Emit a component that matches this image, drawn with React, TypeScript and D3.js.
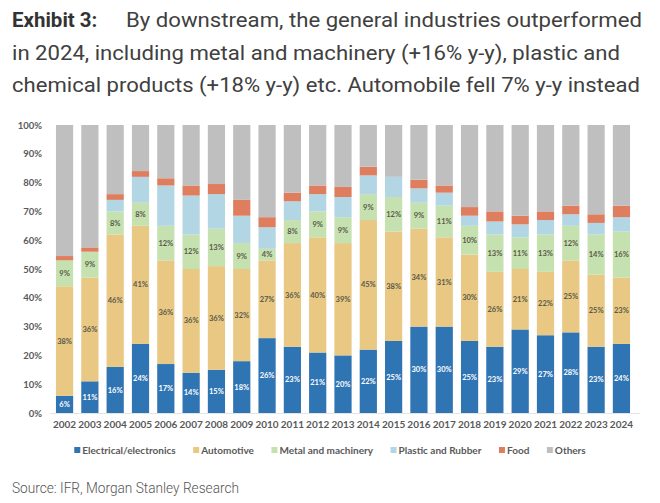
import React, { useEffect, useRef } from 'react';
import * as d3 from 'd3';

const years = ['2002', '2003', '2004', '2005', '2006', '2007', '2008', '2009', '2010', '2011', '2012', '2013', '2014', '2015', '2016', '2017', '2018', '2019', '2020', '2021', '2022', '2023', '2024'];
const electrical = [6, 11, 16, 24, 17, 14, 15, 18, 26, 23, 21, 20, 22, 25, 30, 30, 25, 23, 29, 27, 28, 23, 24];
const automotive = [38, 36, 46, 41, 36, 36, 36, 32, 27, 36, 40, 39, 45, 38, 34, 31, 30, 26, 21, 22, 25, 25, 23];
const metal = [9, 9, 8, 8, 12, 12, 13, 9, 4, 8, 9, 9, 9, 12, 9, 11, 10, 13, 11, 13, 12, 14, 16];
const plastic = [0, 0, 4, 9, 14, 13.5, 12, 9.5, 7.5, 6.5, 6, 7, 6.5, 7, 5, 4.5, 3.5, 4.5, 4.5, 5, 4, 4, 5];
const food = [1.5, 1.5, 2, 2, 2.5, 3.5, 3.5, 5.5, 3.5, 3, 3, 3.5, 3, 0, 3, 2.5, 3, 3.5, 3, 3, 3, 3, 4];
const others = [45.5, 42.5, 24, 16, 18.5, 21, 20.5, 26, 32, 23.5, 21, 21.5, 14.5, 18, 19, 21, 28.5, 30, 31.5, 30, 28, 31, 28];
const yTicks = [0, 10, 20, 30, 40, 50, 60, 70, 80, 90, 100];

const seriesNames = ['Electrical/electronics', 'Automotive', 'Metal and machinery', 'Plastic and Rubber', 'Food', 'Others'];
const seriesValues = [electrical, automotive, metal, plastic, food, others];
const seriesColors = ['#2f74b3', '#e8c883', '#c6e1b0', '#b2d6e3', '#df7d5f', '#bfbfbf'];
const labelledSeries = [0, 1, 2];

const titleLines = [
  'By downstream, the general industries outperformed',
  'in 2024, including metal and machinery (+16% y-y), plastic and',
  'chemical products (+18% y-y) etc. Automobile fell 7% y-y instead',
];

const W = 660;
const H = 503;
const AXIS_FONT = 'Lato, "Noto Sans", sans-serif';
const TITLE_FONT = 'Roboto, "Noto Sans", sans-serif';

export default function App() {
  const svgRef = useRef<SVGSVGElement>(null);

  useEffect(() => {
    if (!svgRef.current) return;
    const svg = d3.select(svgRef.current);
    svg.selectAll('*').remove();

    const rows = years.map((y, i) => {
      const row: any = { year: y };
      seriesNames.forEach((n, s) => { row[n] = seriesValues[s][i]; });
      return row;
    });

    const stacked = d3.stack<any>().keys(seriesNames)(rows);

    const x = d3.scaleBand()
      .domain(years)
      .range([43.3, 642.7])
      .paddingInner(0.32)
      .paddingOuter(0.5);

    const y = d3.scaleLinear().domain([0, 100]).range([413, 125]);

    // --- title (widths fitted to the original lines) ---
    svg.append('text')
      .attr('x', 12).attr('y', 27)
      .attr('font-family', TITLE_FONT)
      .attr('font-size', 20.5)
      .attr('font-weight', 700)
      .attr('fill', '#333')
      .text('Exhibit 3:');
    const lineSpecs = [
      { x: 126, y: 27, len: 516 },
      { x: 12, y: 60, len: 608 },
      { x: 12, y: 92, len: 628 },
    ];
    titleLines.forEach((t, i) => {
      svg.append('text')
        .attr('x', lineSpecs[i].x).attr('y', lineSpecs[i].y)
        .attr('font-family', TITLE_FONT)
        .attr('font-size', 21)
        .attr('fill', '#404040')
        .attr('textLength', lineSpecs[i].len)
        .attr('lengthAdjust', 'spacingAndGlyphs')
        .text(t);
    });

    // --- bars ---
    const layers = svg.append('g').selectAll('g')
      .data(stacked)
      .enter().append('g')
      .attr('fill', (_d, i) => seriesColors[i]);

    layers.selectAll('rect')
      .data(d => d)
      .enter().append('rect')
      .attr('x', d => x(d.data.year) || 0)
      .attr('width', x.bandwidth())
      .attr('y', d => y(d[1]))
      .attr('height', d => Math.max(0, y(d[0]) - y(d[1])));

    // zero line
    svg.append('line')
      .attr('x1', 50).attr('x2', 640)
      .attr('y1', y(0) + 0.5).attr('y2', y(0) + 0.5)
      .attr('stroke', '#e4e4e4').attr('stroke-width', 1);

    // segment labels
    labelledSeries.forEach(s => {
      svg.append('g').selectAll('text')
        .data(stacked[s])
        .enter().append('text')
        .attr('x', d => (x(d.data.year) || 0) + x.bandwidth() / 2)
        .attr('y', d => y((d[0] + d[1]) / 2) + 2.6)
        .attr('text-anchor', 'middle')
        .attr('font-family', AXIS_FONT)
        .attr('font-size', 7.5)
        .attr('font-weight', 700)
        .attr('fill', s === 0 ? '#ffffff' : '#5a5a4a')
        .text(d => `${seriesValues[s][years.indexOf(d.data.year)]}%`);
    });

    // y axis
    const yAxis = svg.append('g')
      .attr('transform', 'translate(42,0)')
      .call(d3.axisLeft(y).tickValues(yTicks).tickSize(0).tickPadding(0).tickFormat(d => `${d}%`));
    yAxis.select('.domain').remove();
    yAxis.selectAll('.tick text')
      .attr('font-family', AXIS_FONT)
      .attr('font-size', 9.5)
      .attr('font-weight', 700)
      .attr('fill', '#595959');

    // x axis
    const xAxis = svg.append('g')
      .attr('transform', 'translate(0,420)')
      .call(d3.axisBottom(x).tickSize(0).tickPadding(0));
    xAxis.select('.domain').remove();
    xAxis.selectAll('.tick text')
      .attr('dy', '0.75em')
      .attr('font-family', AXIS_FONT)
      .attr('font-size', 10)
      .attr('font-weight', 700)
      .attr('fill', '#595959');

    // legend
    const legend = svg.append('g');
    const items = seriesNames.map((n, i) => {
      const g = legend.append('g');
      g.append('rect').attr('y', 447).attr('width', 6).attr('height', 6).attr('fill', seriesColors[i]);
      const t = g.append('text')
        .attr('x', 8).attr('y', 453.5)
        .attr('font-family', AXIS_FONT)
        .attr('font-size', 10)
        .attr('font-weight', 700)
        .attr('fill', '#595959')
        .text(n);
      const w = (t.node() as SVGTextElement).getComputedTextLength();
      return { g, w: 8 + w };
    });
    const gap = 17.5;
    const total = d3.sum(items, d => d.w) + gap * (items.length - 1);
    let cx = 330 - total / 2;
    items.forEach(it => {
      it.g.attr('transform', `translate(${cx},0)`);
      cx += it.w + gap;
    });

    // source
    svg.append('text')
      .attr('x', 12).attr('y', 493)
      .attr('font-family', TITLE_FONT)
      .attr('font-size', 15.5)
      .attr('font-weight', 300)
      .attr('fill', '#555')
      .attr('textLength', 227)
      .attr('lengthAdjust', 'spacingAndGlyphs')
      .text('Source: IFR, Morgan Stanley Research');
  }, []);

  return (
    <svg
      ref={svgRef}
      width={W}
      height={H}
      style={{ position: 'absolute', left: 0, top: 0, background: '#fff' }}
    />
  );
}
